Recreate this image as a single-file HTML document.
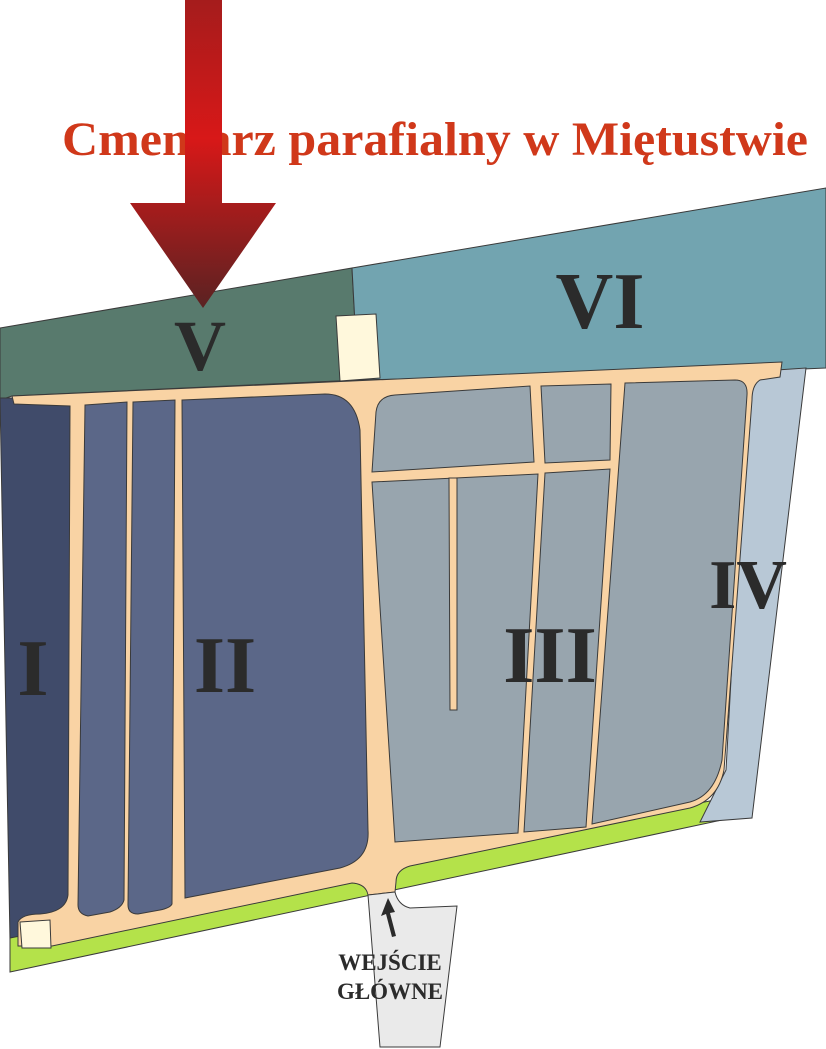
<!DOCTYPE html>
<html><head><meta charset="utf-8"><style>
html,body{margin:0;padding:0;background:#fff;}
svg{display:block;}
text{font-family:"Liberation Serif",serif;font-weight:bold;}
</style></head><body>
<svg width="826" height="1049" viewBox="0 0 826 1049" xmlns="http://www.w3.org/2000/svg">
<defs>
<linearGradient id="ag" x1="0" y1="0" x2="0" y2="1">
<stop offset="0" stop-color="#a51c1c"/><stop offset="0.45" stop-color="#d81818"/><stop offset="1" stop-color="#5a2222"/>
</linearGradient>
</defs>
<g stroke="#3a3a3a" stroke-width="1">
<polygon points="0,328 352,268 358,380 12,396 0,400" fill="#587a6d"/>
<polygon points="352,268 826,188 826,368 780,370 358,380" fill="#72a4b0"/>
<polygon points="0,398 75,398 75,935 10,940" fill="#404b6a"/>
<polygon points="10,938 725,798 722,820 10,972" fill="#b4e24a"/>
<polygon points="748,372 806,368 752,818 700,822 726,770" fill="#b8c8d6"/>
<path d="M14,404 L12,396 L782,362 L780,377 L760,380 Q752,385 752,400 L724,770 Q718,800 690,808 L410,866 Q396,870 396,882 L395,892 L368,895 Q366,884 352,883 L52,946 L18,946 L18,922 Q22,914 40,914 Q66,912 68,895 L70,406 Z" fill="#f9d3a4"/>
<path d="M85,405 L127,402 L124,900 Q122,908 110,912 L88,916 Q78,914 78,905 Z" fill="#5b6788"/>
<path d="M133,402 L175,400 L172,904 Q170,908 160,910 L138,914 Q128,914 128,905 Z" fill="#5b6788"/>
<path d="M182,400 L325,394 Q355,394 360,430 L368,830 Q370,860 340,868 L185,898 Z" fill="#5b6788"/>
<path d="M395,395 L530,386 L534,462 L372,472 L376,412 Q378,396 395,395 Z" fill="#98a5ae"/>
<polygon points="541,386 611,384 610,460 545,463" fill="#98a5ae"/>
<polygon points="372,482 538,474 518,833 395,842 Q378,842 378,830 Z" fill="#98a5ae"/>
<polygon points="545,473 610,469 586,827 524,832" fill="#98a5ae"/>
<path d="M625,383 L735,380 Q748,380 747,395 L722,760 Q715,795 690,802 L592,824 Z" fill="#98a5ae"/>
<polygon points="449,478 457,478 457,710 450,710" fill="#f9d3a4"/>
<polygon points="336,316 376,314 380,378 340,381" fill="#fff8dc"/>
<polygon points="20,922 50,920 51,948 22,948" fill="#fff8dc"/>
<path d="M368,895 L395,892 Q398,905 410,908 L457,906 L440,1047 L380,1047 Z" fill="#eaeaea"/>
</g>
<polygon points="392,937 386,914 381,916 388,898 395,912 390,913 396,936" fill="#2b2b2b"/>
<text x="390" y="970" font-size="23" fill="#2b2b2b" text-anchor="middle">WEJŚCIE</text>
<text x="390" y="999" font-size="23" fill="#2b2b2b" text-anchor="middle">GŁÓWNE</text>
<g fill="#2b2b2b" text-anchor="middle">
<text x="200" y="370" font-size="72">V</text>
<text x="600" y="328" font-size="80">VI</text>
<text x="33" y="695" font-size="80">I</text>
<text x="225" y="692" font-size="80">II</text>
<text x="550" y="682" font-size="80">III</text>
<text x="748" y="608" font-size="70">IV</text>
</g>
<text x="435" y="155" font-size="48" fill="#d0381a" text-anchor="middle" textLength="746" lengthAdjust="spacingAndGlyphs">Cmentarz parafialny w Miętustwie</text>
<path d="M185,0 L222,0 L222,203 L276,203 L203,308 L130,203 L185,203 Z" fill="url(#ag)"/>
</svg>
</body></html>
